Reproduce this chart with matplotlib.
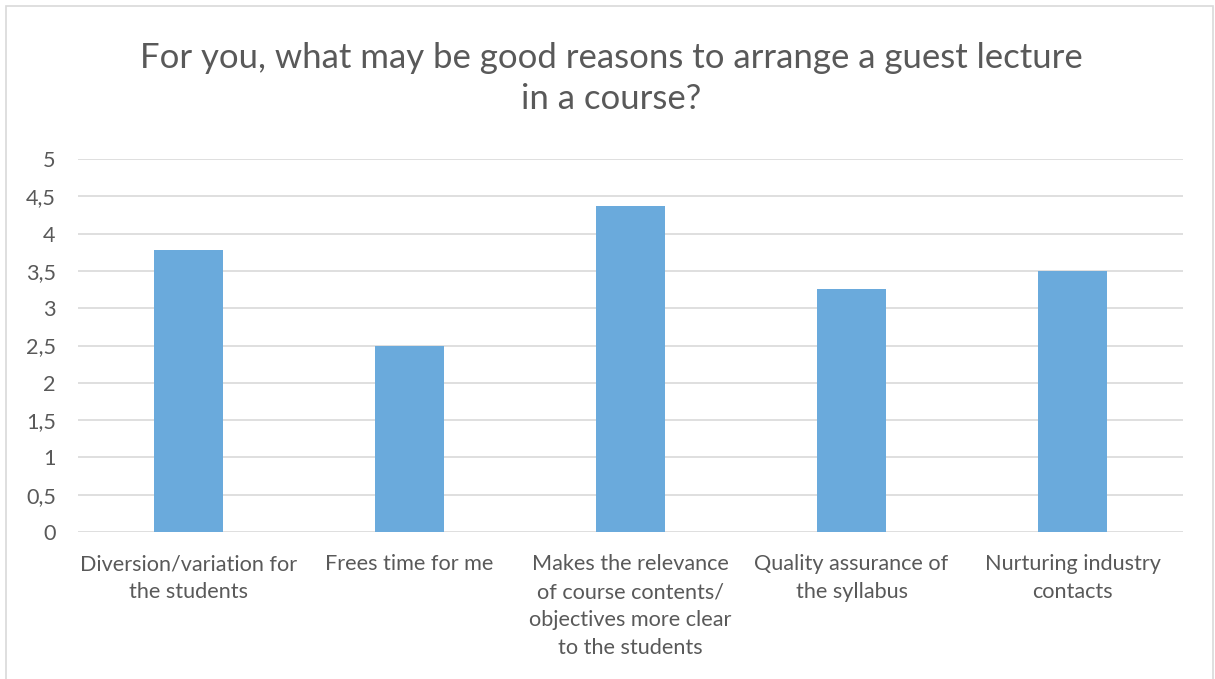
import matplotlib
matplotlib.use("Agg")
import matplotlib.pyplot as plt
from matplotlib.patches import Rectangle

categories = [
    "Diversion/variation for\nthe students",
    "Frees time for me",
    "Makes the relevance\nof course contents/\nobjectives more clear\nto the students",
    "Quality assurance of\nthe syllabus",
    "Nurturing industry\ncontacts",
]
values = [3.78, 2.50, 4.37, 3.26, 3.50]
yticks = [0, 0.5, 1, 1.5, 2, 2.5, 3, 3.5, 4, 4.5, 5]
ytick_labels = ["0", "0,5", "1", "1,5", "2", "2,5", "3", "3,5", "4", "4,5", "5"]
title = "For you, what may be good reasons to arrange a guest lecture\nin a course?"

plt.rcParams['font.family'] = ['Lato', 'DejaVu Sans']
W, H = 1215, 679
fig = plt.figure(figsize=(W / 100, H / 100), dpi=100)
fig.patch.set_facecolor("white")

# chart border
fig.patches.append(Rectangle((6 / W, -0.1), (W - 8) / W, 1.1 - 6 / H,
                             transform=fig.transFigure, fill=False,
                             edgecolor="#D9D9D9", linewidth=1.2))

ax = fig.add_axes([78 / W, 1 - 532 / H, (1183 - 78) / W, (532 - 159) / H])
x = list(range(len(categories)))
ax.bar(x, values, width=0.31, color="#6AAADC", zorder=3)
ax.set_xlim(-0.5, len(categories) - 0.5)
ax.set_ylim(0, 5)
ax.set_yticks(yticks)
ax.set_yticklabels(ytick_labels)
ax.set_xticks(x)
ax.set_xticklabels(categories, linespacing=1.5)
ax.grid(axis="y", color="#D9D9D9", linewidth=1.2, zorder=0)
for s in ax.spines.values():
    s.set_visible(False)
ax.tick_params(axis="both", length=0, labelsize=15.6, colors="#595959")
ax.tick_params(axis="y", pad=16)
ax.tick_params(axis="x", pad=16)
for lbl in ax.get_yticklabels():
    lbl.set_horizontalalignment("right")
for lbl in ax.get_xticklabels():
    lbl.set_verticalalignment("top")

fig.text(611 / W, 1 - 78.5 / H, title, ha="center", va="center",
         fontsize=25, color="#595959", linespacing=1.34)

fig.savefig("out.png", dpi=100)
